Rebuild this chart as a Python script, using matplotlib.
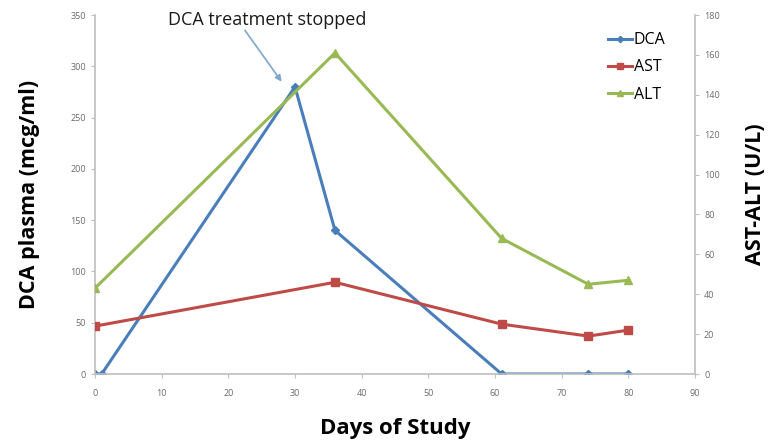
import numpy as np
import matplotlib.pyplot as plt

# data
days_dca = [0, 1, 30, 36, 61, 74, 80]
dca = [0, 0, 280, 140, 0, 0, 0]
days_liver = [0, 36, 61, 74, 80]
ast = [24, 46, 25, 19, 22]
alt = [43, 161, 68, 45, 47]

c_dca = '#4a7ebb'
c_ast = '#be4b48'
c_alt = '#98b954'
grey = '#bfbfbf'
tick_col = '#6b6b6b'

plt.rcParams['font.family'] = ['Open Sans', 'DejaVu Sans']

fig = plt.figure(figsize=(7.76, 4.47), dpi=100)
ax = fig.add_axes([0.1224, 0.1633, 0.7732, 0.8031])
ax2 = ax.twinx()

l1, = ax.plot(days_dca, dca, color=c_dca, lw=2.2, marker='D', ms=4, label='DCA')
l2, = ax2.plot(days_liver, ast, color=c_ast, lw=2.2, marker='s', ms=6, label='AST')
l3, = ax2.plot(days_liver, alt, color=c_alt, lw=2.2, marker='^', ms=6, label='ALT')

ax.set_xlim(0, 90)
ax.set_ylim(0, 350)
ax2.set_ylim(0, 180)
ax.set_xticks(np.arange(0, 91, 10))
ax.set_yticks(np.arange(0, 351, 50))
ax2.set_yticks(np.arange(0, 181, 20))

for a in (ax, ax2):
    a.spines['top'].set_visible(False)
    for s in ('left', 'right', 'bottom'):
        a.spines[s].set_color(grey)
        a.spines[s].set_linewidth(1.2)
    a.tick_params(colors=grey, labelcolor=tick_col, labelsize=6.5, length=3)
ax.spines['right'].set_visible(False)
ax2.spines['left'].set_visible(False)
ax2.spines['bottom'].set_visible(False)
ax.tick_params(axis='x', pad=8)

ax.set_ylabel('DCA plasma (mcg/ml)', fontsize=15.5, fontweight='bold', labelpad=22)
ax2.set_ylabel('AST-ALT (U/L)', fontsize=15.5, fontweight='bold', labelpad=18)
ax.set_xlabel('Days of Study', fontsize=16, fontweight='bold', labelpad=14)

ax.text(25.8, 345, 'DCA treatment stopped', ha='center', va='center',
        fontsize=13, color='#1a1a1a')
ax.annotate('', xy=(28.0, 285), xytext=(22.5, 335),
            arrowprops=dict(arrowstyle='-|>', color='#7ea6cf', lw=1.2,
                            mutation_scale=9, shrinkA=0, shrinkB=0))

fig.legend(handles=[l1, l2, l3], loc='upper left', bbox_to_anchor=(0.765, 0.96),
           frameon=False, fontsize=11.5, handlelength=1.5, handletextpad=0.1,
           labelspacing=0.7, markerscale=0.8)

plt.savefig('out.png', dpi=100)
